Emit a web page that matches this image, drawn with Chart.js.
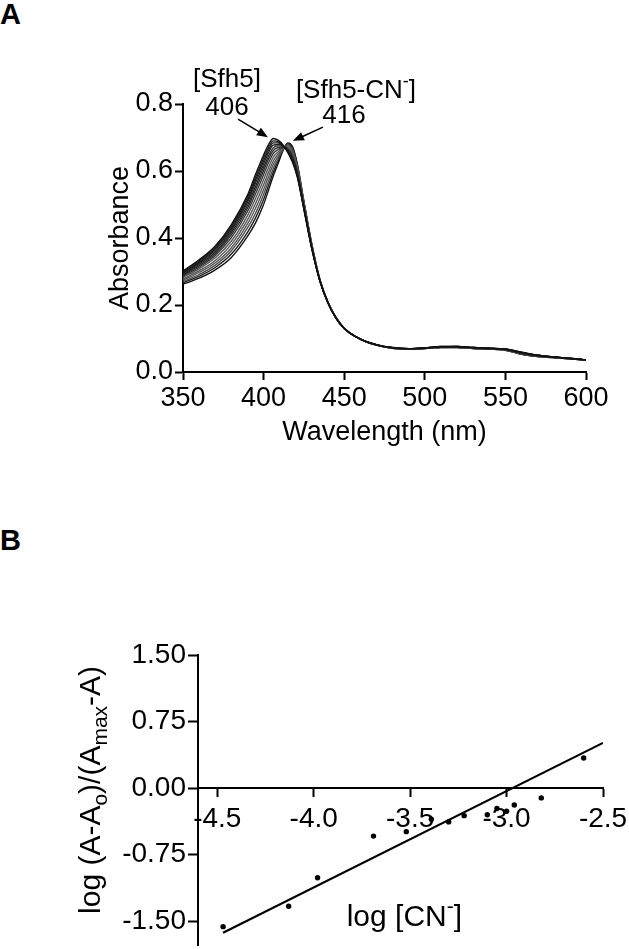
<!DOCTYPE html>
<html>
<head>
<meta charset="utf-8">
<script src="https://cdn.jsdelivr.net/npm/chart.js@4.4.1/dist/chart.umd.min.js"></script>
<style>
  html, body { margin: 0; padding: 0; background: #fff; width: 629px; height: 949px; overflow: hidden;
    font-family: "Liberation Sans", Arial, sans-serif; }
  canvas { position: absolute; left: 0; }
  #chart-a { top: 0; }
  #chart-b { top: 560px; }
  .panel-tag { position: absolute; left: 0; font-weight: bold; font-size: 29px; line-height: 1; color: #000; }
</style>
</head>
<body>
<div class="panel-tag" style="top:0">A</div>
<div class="panel-tag" style="top:526px">B</div>
<canvas id="chart-a" width="629" height="453"></canvas>
<canvas id="chart-b" width="629" height="389"></canvas>
<script>
/** Panel A: spectral titration of Sfh5 with cyanide; panel B: Hill-type plot */

// ── Panel A data ─────────────────────────────────────────
const wavelengths = [350, 360, 370, 380, 390, 395, 400, 403, 406, 409, 412, 415, 418, 421, 425, 430, 435, 440, 445, 450,
  460, 470, 480, 490, 500, 510, 520, 530, 540, 550, 560, 570, 580, 590, 600];
const wlTicks = [350, 400, 450, 500, 550, 600];
const absTicks = [0, 0.2, 0.4, 0.6, 0.8];

// absorbance of each scan, first (free Sfh5, 406 nm) to last (Sfh5-CN-, 416 nm)
const scan01 = [.302, .335, .376, .440, .528, .590, .648, .678, .697, .692, .678, .655, .625, .580, .485, .365, .270, .205, .160, .130,
  .098, .082, .073, .070, .072, .076, .076, .073, .071, .069, .059, .050, .045, .041, .036];
const scan02 = [.300, .332, .372, .434, .521, .581, .639, .670, .690, .688, .677, .657, .628, .582, .487, .366, .270, .205, .160, .130,
  .098, .082, .073, .070, .072, .076, .076, .073, .071, .069, .059, .050, .045, .041, .036];
const scan03 = [.297, .328, .368, .428, .513, .573, .630, .662, .684, .684, .676, .659, .631, .585, .488, .367, .271, .205, .160, .130,
  .098, .081, .073, .070, .072, .075, .076, .073, .071, .068, .058, .050, .045, .041, .036];
const scan04 = [.295, .325, .363, .422, .506, .564, .621, .654, .677, .679, .675, .660, .634, .587, .490, .368, .271, .206, .160, .130,
  .098, .081, .073, .070, .072, .075, .076, .073, .071, .068, .058, .050, .045, .041, .036];
const scan05 = [.292, .321, .358, .416, .497, .554, .611, .644, .669, .675, .674, .662, .637, .590, .491, .369, .271, .206, .161, .130,
  .098, .081, .072, .069, .071, .075, .075, .072, .070, .067, .056, .048, .044, .040, .036];
const scan06 = [.289, .317, .353, .409, .489, .544, .601, .635, .661, .670, .672, .664, .640, .593, .493, .370, .272, .206, .161, .130,
  .098, .081, .072, .069, .071, .075, .075, .072, .070, .067, .056, .048, .044, .040, .036];
const scan07 = [.286, .313, .348, .401, .479, .532, .589, .624, .652, .664, .671, .667, .644, .596, .495, .371, .272, .206, .161, .130,
  .098, .081, .072, .069, .071, .075, .075, .072, .070, .067, .056, .048, .044, .040, .036];
const scan08 = [.282, .308, .341, .391, .467, .518, .574, .610, .641, .657, .669, .670, .649, .600, .498, .373, .273, .207, .161, .131,
  .098, .081, .072, .069, .071, .074, .075, .072, .070, .066, .055, .048, .044, .040, .036];
const scan09 = [.278, .302, .333, .381, .454, .503, .559, .596, .630, .650, .667, .672, .653, .604, .500, .374, .273, .207, .161, .131,
  .098, .081, .072, .069, .071, .074, .075, .072, .070, .066, .055, .048, .044, .040, .036];
const scan10 = [.274, .297, .326, .371, .442, .489, .544, .583, .619, .643, .665, .675, .658, .608, .503, .376, .274, .207, .161, .131,
  .098, .080, .071, .068, .070, .074, .074, .071, .069, .066, .054, .047, .043, .040, .035];
const scan11 = [.270, .291, .319, .362, .430, .474, .530, .569, .607, .636, .664, .678, .663, .612, .505, .377, .274, .207, .162, .131,
  .098, .080, .071, .068, .070, .074, .074, .071, .069, .066, .054, .047, .043, .040, .035];
const scan12 = [.266, .286, .312, .352, .417, .460, .515, .556, .596, .629, .662, .681, .667, .616, .508, .379, .275, .208, .162, .131,
  .098, .080, .071, .068, .070, .073, .073, .070, .068, .065, .053, .046, .043, .039, .035];
const scan13 = [.262, .280, .305, .342, .405, .445, .500, .542, .585, .622, .660, .684, .672, .620, .510, .380, .275, .208, .162, .131,
  .098, .080, .071, .068, .070, .073, .073, .070, .068, .065, .053, .046, .043, .039, .035];
const scans = [scan01, scan02, scan03, scan04, scan05, scan06, scan07, scan08, scan09, scan10, scan11, scan12, scan13];
const scanColors = ['#111', '#1a1a1a', '#1a1a1a', '#222', '#222', '#2a2a2a', '#333', '#555', '#555', '#555', '#4a4a4a', '#1a1a1a', '#111'];

// ── Panel B data ─────────────────────────────────────────
const logCN = [-4.47, -4.13, -3.98, -3.69, -3.52, -3.39, -3.30, -3.22, -3.10, -3.05, -3.00, -2.96, -2.82, -2.60];
const logRatio = [-1.56, -1.33, -1.01, -0.54, -0.49, -0.35, -0.38, -0.31, -0.30, -0.23, -0.26, -0.19, -0.11, 0.34];
const fitX = [-4.47, -2.50];
const fitY = [-1.63, 0.51];
const cnTicks = [-4.5, -4.0, -3.5, -3.0, -2.5];
const ratioTicks = [1.5, 0.75, 0, -0.75, -1.5];

const FONT = '"Liberation Sans", Arial, sans-serif';

// text with sub/superscript pieces: parts = [[text, shift]], shift 1 = sup, -1 = sub
function drawRich(ctx, parts, x, y, size, small = 0.7) {
  const fontFor = s => `${s ? Math.round(size * small) : size}px ${FONT}`;
  let w = 0;
  for (const [t, s] of parts) { ctx.font = fontFor(s); w += ctx.measureText(t).width; }
  let cx = x - w / 2;
  ctx.textAlign = 'left';
  ctx.textBaseline = 'alphabetic';
  for (const [t, s] of parts) {
    ctx.font = fontFor(s);
    const dy = s === 1 ? -size * 0.42 : s === -1 ? size * 0.22 : 0;
    ctx.fillText(t, cx, y + dy);
    cx += ctx.measureText(t).width;
  }
}

function arrow(ctx, x1, y1, x2, y2) {
  const ang = Math.atan2(y2 - y1, x2 - x1), head = 11, half = 4.5;
  const c = Math.cos(ang), s = Math.sin(ang);
  ctx.lineWidth = 1.6;
  ctx.beginPath();
  ctx.moveTo(x1, y1);
  ctx.lineTo(x2 - c * head * 0.8, y2 - s * head * 0.8);
  ctx.stroke();
  ctx.beginPath();
  ctx.moveTo(x2, y2);
  ctx.lineTo(x2 - head * c + half * s, y2 - head * s - half * c);
  ctx.lineTo(x2 - head * c - half * s, y2 - head * s + half * c);
  ctx.closePath();
  ctx.fill();
}

// annotations over the Soret peaks (anchored in data coordinates)
const soretNotes = {
  id: 'soretNotes',
  afterDraw(chart) {
    const { ctx, scales: { x, y } } = chart;
    const p = (w, a) => [x.getPixelForValue(w), y.getPixelForValue(a)];
    ctx.save();
    ctx.fillStyle = '#000';
    ctx.strokeStyle = '#000';
    drawRich(ctx, [['[Sfh5]', 0]], ...p(377.3, 0.851), 26);
    drawRich(ctx, [['406', 0]], ...p(377.3, 0.767), 26);
    drawRich(ctx, [['[Sfh5-CN', 0], ['-', 1], [']', 0]], ...p(457.3, 0.818), 26);
    drawRich(ctx, [['416', 0]], ...p(449.9, 0.743), 26);
    arrow(ctx, ...p(384.1, 0.755), ...p(402.7, 0.701));
    arrow(ctx, ...p(436.8, 0.731), ...p(418.2, 0.690));
    ctx.restore();
  }
};

// axis titles for panel B (need sub/superscripts)
const hillTitles = {
  id: 'hillTitles',
  afterDraw(chart) {
    const { ctx, scales: { x, y } } = chart;
    ctx.save();
    ctx.fillStyle = '#000';
    drawRich(ctx, [['log [CN', 0], ['-', 1], [']', 0]], x.getPixelForValue(-3.53), y.getPixelForValue(-1.55), 30);
    ctx.translate(100, y.getPixelForValue(-0.02));
    ctx.rotate(-Math.PI / 2);
    drawRich(ctx, [['log (A-A', 0], ['o', -1], [')/(A', 0], ['max', -1], ['-A)', 0]], 0, 0, 30);
    ctx.restore();
  }
};

const axisStyle = (size, pad = 2) => ({
  grid: { display: true, drawOnChartArea: false, drawTicks: true, tickLength: 8, tickWidth: 2, tickColor: '#000' },
  border: { display: true, color: '#000', width: 2 },
  ticks: { color: '#000', font: { family: FONT, size }, padding: pad, maxRotation: 0, autoSkip: false },
});

new Chart(document.getElementById('chart-a').getContext('2d'), {
  type: 'line',
  data: {
    datasets: scans.map((arr, i) => ({
      data: wavelengths.map((w, j) => ({ x: w, y: arr[j] })),
      borderColor: scanColors[i],
      borderWidth: 1.35,
      pointRadius: 0,
      cubicInterpolationMode: 'monotone',
      fill: false,
    })),
  },
  options: {
    responsive: false, animation: false, devicePixelRatio: 1,
    layout: { padding: { left: 100, top: 104, right: 43, bottom: 0 } },
    plugins: { legend: { display: false }, tooltip: { enabled: false } },
    scales: {
      x: {
        type: 'linear', min: 350, max: 600, ...axisStyle(27),
        afterBuildTicks: s => { s.ticks = wlTicks.map(v => ({ value: v })); },
        afterFit: s => { s.height = 81; },
        title: { display: true, text: 'Wavelength (nm)', color: '#000', font: { family: FONT, size: 27 }, padding: { top: 4, bottom: 4 } },
      },
      y: {
        type: 'linear', min: 0, max: 0.8, ...axisStyle(27),
        ticks: { ...axisStyle(27).ticks, callback: v => v.toFixed(1) },
        afterBuildTicks: s => { s.ticks = absTicks.map(v => ({ value: v })); },
        afterFit: s => { s.width = 83; },
        title: { display: true, text: 'Absorbance', color: '#000', font: { family: FONT, size: 27 }, padding: { top: 4, bottom: 4 } },
      },
    },
  },
  plugins: [soretNotes],
});

new Chart(document.getElementById('chart-b').getContext('2d'), {
  type: 'scatter',
  data: {
    datasets: [
      { data: logCN.map((v, i) => ({ x: v, y: logRatio[i] })), pointRadius: 2.7, pointBackgroundColor: '#000', pointBorderWidth: 0 },
      { type: 'line', data: fitX.map((v, i) => ({ x: v, y: fitY[i] })), borderColor: '#000', borderWidth: 2.2, pointRadius: 0, fill: false },
    ],
  },
  options: {
    responsive: false, animation: false, devicePixelRatio: 1,
    layout: { padding: { left: 0, top: 95, right: 26, bottom: 0 } },
    plugins: { legend: { display: false }, tooltip: { enabled: false } },
    scales: {
      x: {
        type: 'linear', min: -4.6, max: -2.5, position: { y: 0 }, ...axisStyle(28, 6),
        ticks: { ...axisStyle(28, 6).ticks, callback: v => v.toFixed(1) },
        afterBuildTicks: s => { s.ticks = cnTicks.map(v => ({ value: v })); },
        afterFit: s => { s.paddingLeft = 0; s.paddingRight = 0; },
      },
      y: {
        type: 'linear', min: -1.767, max: 1.5, ...axisStyle(28),
        grid: { ...axisStyle(28).grid, tickLength: 10 },
        ticks: { ...axisStyle(28).ticks, callback: v => v.toFixed(2) },
        afterBuildTicks: s => { s.ticks = ratioTicks.map(v => ({ value: v })); },
        afterFit: s => { s.width = 198; s.paddingTop = 0; s.paddingBottom = 0; },
      },
    },
  },
  plugins: [hillTitles],
});
</script>
</body>
</html>
